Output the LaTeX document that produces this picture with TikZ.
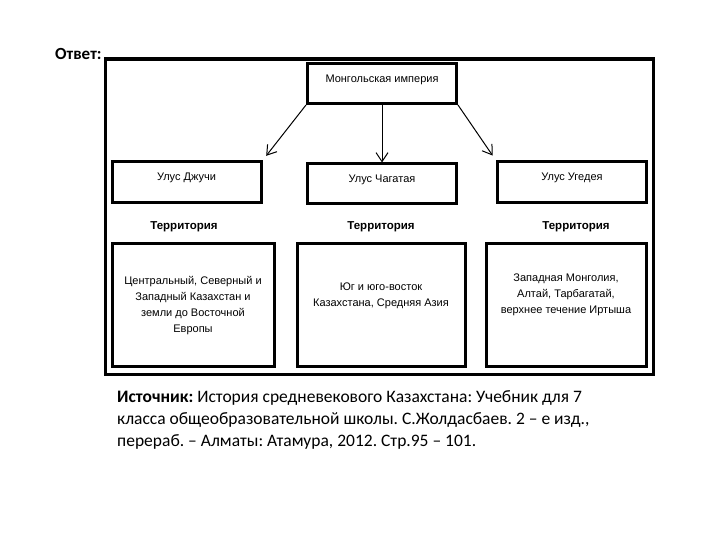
\documentclass[tikz,border=0pt]{standalone}
\usepackage{fontspec}
\setmainfont{Liberation Sans}
\newfontfamily\calib{Carlito}
\usetikzlibrary{arrows.meta,shadows}
\frenchspacing
\begin{document}
\begin{tikzpicture}[x=1pt,y=-1pt,
  boxst/.style={draw=black,line width=3pt,fill=white,inner sep=0pt,
    drop shadow={shadow xshift=1.5pt,shadow yshift=-1.5pt,fill=black!35,opacity=0.6}},
  txt/.style={font=\fontsize{11}{16}\selectfont,align=center,inner sep=0pt},
  terr/.style={font=\bfseries\fontsize{11.5}{13}\selectfont,inner sep=0pt},
  arr/.style={line width=1pt,-{Straight Barb[length=9pt,width=12pt,line width=1pt]}}]
\useasboundingbox (0,0) rectangle (720,540);
% outer frame
\node[boxst,line width=3.5pt,minimum width=548pt,minimum height=315pt,anchor=north west] (frame) at (103.5,57.5) {};
\node[font=\calib\bfseries\fontsize{17}{19}\selectfont,anchor=west,inner sep=0pt] (otvet) at (55,54) {Ответ:};
% top box
\node[boxst,minimum width=149pt,minimum height=40pt] (top) at (382,83.5) {};
\node[txt] (toptxt) at (382,79.5) {Монгольская империя};
% second row
\node[boxst,minimum width=149pt,minimum height=41pt] (u1) at (186.5,182.5) {};
\node[txt] (u1t) at (186.5,177.5) {Улус Джучи};
\node[boxst,minimum width=149pt,minimum height=40pt] (u2) at (382,184) {};
\node[txt] (u2t) at (382,180) {Улус Чагатая};
\node[boxst,minimum width=149pt,minimum height=41pt] (u3) at (572,182.5) {};
\node[txt] (u3t) at (572,178) {Улус Угедея};
% arrows
\draw[arr,shorten >=6pt] (top.south west) -- (u1.north east);
\draw[arr] (top.south) -- (u2.north);
\draw[arr,shorten >=6pt] (top.south east) -- (u3.north west);
% territory labels
\node[terr] (tr1) at (184,227) {Территория};
\node[terr] (tr2) at (381,227) {Территория};
\node[terr] (tr3) at (576,227) {Территория};
% bottom boxes
\node[boxst,minimum width=162pt,minimum height=123pt] (b1) at (193,304.5) {};
\node[txt] (b1t) at (193,305.5) {Центральный, Северный и\\Западный Казахстан и\\земли до Восточной\\Европы};
\node[boxst,minimum width=168pt,minimum height=123pt] (b2) at (381,304.5) {};
\node[txt] (b2t) at (381,295.5) {Юг и юго-восток\\Казахстана, Средняя Азия};
\node[boxst,minimum width=160pt,minimum height=123pt] (b3) at (566,304.5) {};
\node[txt] (b3t) at (566,295) {Западная Монголия,\\Алтай, Тарбагатай,\\верхнее течение Иртыша};
% source
\node[font=\calib\fontsize{17.5}{22}\selectfont,align=left,anchor=north west,inner sep=0pt] (src) at (117,390)
 {\textbf{Источник:} История средневекового Казахстана: Учебник для 7\\
 класса общеобразовательной школы. С.Жолдасбаев. 2 – е изд.,\\
 перераб. – Алматы: Атамура, 2012. Стр.95 – 101.};
\end{tikzpicture}
\end{document}
